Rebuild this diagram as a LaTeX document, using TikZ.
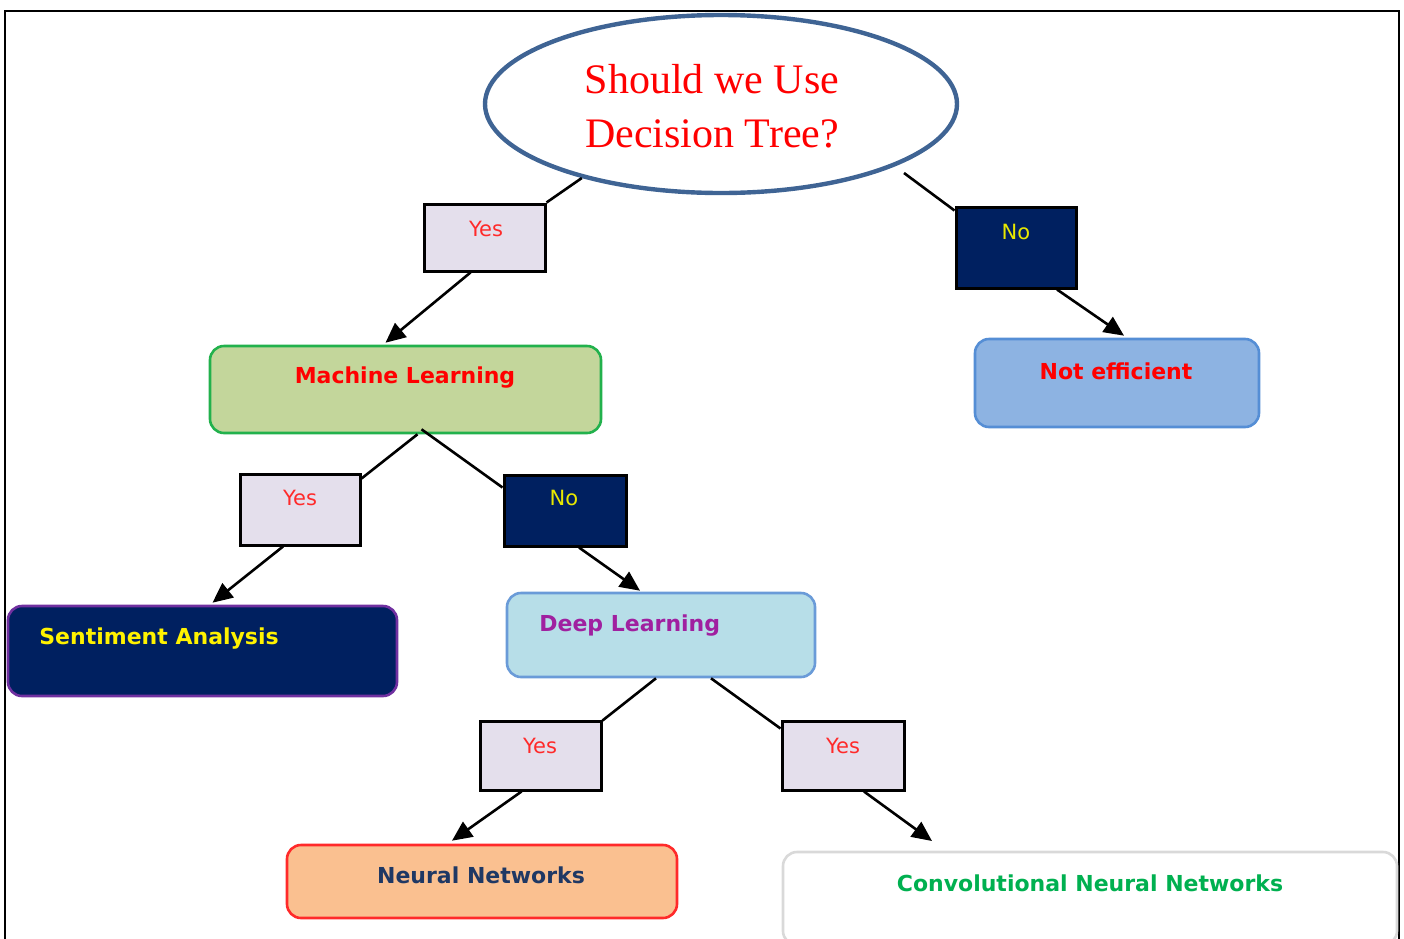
\documentclass[tikz,border=0pt]{standalone}
\usepackage{fontspec}
\newfontfamily\lbl{DejaVu Sans}
\newfontfamily\hand{Liberation Serif}
\usetikzlibrary{arrows.meta,calc,shapes.geometric}
\definecolor{lav}{HTML}{E4DFEC}
\definecolor{navy}{HTML}{002060}
\definecolor{mlfill}{HTML}{C3D69B}
\definecolor{mlborder}{HTML}{22B14C}
\definecolor{nefill}{HTML}{8DB3E2}
\definecolor{neborder}{HTML}{558ED5}
\definecolor{dlfill}{HTML}{B7DEE8}
\definecolor{dlborder}{HTML}{6A9BD8}
\definecolor{nnfill}{HTML}{FAC090}
\definecolor{nnborder}{HTML}{FF2A2A}
\definecolor{saborder}{HTML}{7030A0}
\definecolor{cnnborder}{HTML}{D9D9D9}
\definecolor{ellborder}{HTML}{3F6494}
\definecolor{yesred}{HTML}{FF2A2A}
\definecolor{noyellow}{HTML}{E8E800}
\definecolor{dltext}{HTML}{A020A0}
\definecolor{nntext}{HTML}{1F3864}
\definecolor{cnntext}{HTML}{00B050}
\tikzset{
  yesbox/.style={draw=black, line width=1.5pt, fill=lav, inner sep=0pt},
  nobox/.style={draw=black, line width=1.5pt, fill=navy, inner sep=0pt},
  rbox/.style={rounded corners=7pt, line width=1.3pt, inner sep=0pt},
  yestext/.style={font=\lbl\fontsize{10.5}{12}\selectfont, text=yesred, inner sep=0pt},
  notext/.style={font=\lbl\fontsize{10.5}{12}\selectfont, text=noyellow, inner sep=0pt},
  boxtext/.style={font=\lbl\bfseries\fontsize{11}{12}\selectfont, inner sep=0pt},
  conn/.style={line width=1.3pt, black},
  arr/.style={line width=1.3pt, black, -{Triangle[length=10pt,width=9pt]}}
}
\begin{document}
\begin{tikzpicture}[x=0.5pt,y=-0.5pt]
\useasboundingbox (0,0) rectangle (1404,938);
% outer frame
\draw[line width=1.3pt, black] (5,945) -- (5,11) -- (1399,11) -- (1399,945);
% root ellipse
\node[ellipse, draw=ellborder, line width=2.2pt, fill=white, minimum width=236pt, minimum height=89pt, inner sep=0pt] (root) at (721,104) {};
\node[font=\hand\fontsize{21}{27}\selectfont, text=red, align=center, inner sep=0pt] (roottext) at (712,106) {Should we Use\\Decision Tree?};
% decision boxes
\node[yesbox, minimum width=60.5pt, minimum height=33.5pt] (yes1) at (484.5,237.5) {};
\node[nobox, minimum width=60pt, minimum height=40.5pt] (no1) at (1016,247.5) {};
\node[yesbox, minimum width=60pt, minimum height=35.5pt] (yes2) at (300,509.5) {};
\node[nobox, minimum width=61pt, minimum height=35.5pt] (no2) at (565,510.5) {};
\node[yesbox, minimum width=60.5pt, minimum height=34.5pt] (yes3) at (540.5,755.5) {};
\node[yesbox, minimum width=61pt, minimum height=34.5pt] (yes4) at (843,755.5) {};
\node[yestext] (yes1t) at (486,229) {Yes};
\node[notext] (no1t) at (1016,232) {No};
\node[yestext] (yes2t) at (300,498) {Yes};
\node[notext] (no2t) at (564,498) {No};
\node[yestext] (yes3t) at (540,746) {Yes};
\node[yestext] (yes4t) at (843,746) {Yes};
% outcome boxes
\node[rbox, draw=mlborder, fill=mlfill, minimum width=195.5pt, minimum height=43.5pt] (ml) at (405.5,389.5) {};
\node[rbox, draw=neborder, fill=nefill, minimum width=142pt, minimum height=44pt] (ne) at (1117,383) {};
\node[rbox, draw=saborder, fill=navy, minimum width=194.5pt, minimum height=45pt] (sa) at (202.5,651) {};
\node[rbox, draw=dlborder, fill=dlfill, minimum width=154pt, minimum height=42pt] (dl) at (661,635) {};
\node[rbox, draw=nnborder, fill=nnfill, minimum width=195pt, minimum height=36.5pt] (nn) at (482,881.5) {};
\node[rbox, draw=cnnborder, fill=white, minimum width=307pt, minimum height=46.5pt] (cnn) at (1090,898.5) {};
\node[boxtext, text=red] (mlt) at (405,378) {Machine Learning};
\node[boxtext, text=red] (net) at (1116,371) {Not efficient};
\node[boxtext, text=yellow, anchor=west] (sat) at (39,639) {Sentiment Analysis};
\node[boxtext, text=dltext, anchor=west] (dlt) at (539,626) {Deep Learning};
\node[boxtext, text=nntext] (nnt) at (481,875) {Neural Networks};
\node[boxtext, text=cnntext] (cnnt) at (1090,883) {Convolutional Neural Networks};
% connectors
\coordinate (rootR) at (904,173);
\coordinate (cnnin) at (932,841);
\draw[conn] (root.-152) -- (yes1.north east);
\draw[arr] ($(yes1.south)+(-14,0)$) -- ($(ml.north)+(-20,-2)$);
\draw[conn] (rootR) -- ($(no1.north west)+(0,5)$);
\draw[arr] ($(no1.south)+(41,0)$) -- ($(ne.north)+(7,-2)$);
\draw[conn] ($(ml.south)+(12,0)$) -- ($(yes2.north east)+(0,6)$);
\draw[conn] ($(ml.south)+(16,-5)$) -- ($(no2.north west)+(0,14)$);
\draw[arr] ($(yes2.south)+(-17,0)$) -- ($(sa.north)+(10,-2)$);
\draw[arr] ($(no2.south)+(14,0)$) -- ($(dl.north)+(-21,-1)$);
\draw[conn] ($(dl.south)+(-5,0)$) -- ($(yes3.north east)+(0,1)$);
\draw[conn] ($(dl.south)+(50,0)$) -- ($(yes4.north west)+(0,9)$);
\draw[arr] ($(yes3.south)+(-19,0)$) -- ($(nn.north)+(-30,-3)$);
\draw[arr] ($(yes4.south)+(21,0)$) -- (cnnin);
\end{tikzpicture}
\end{document}
